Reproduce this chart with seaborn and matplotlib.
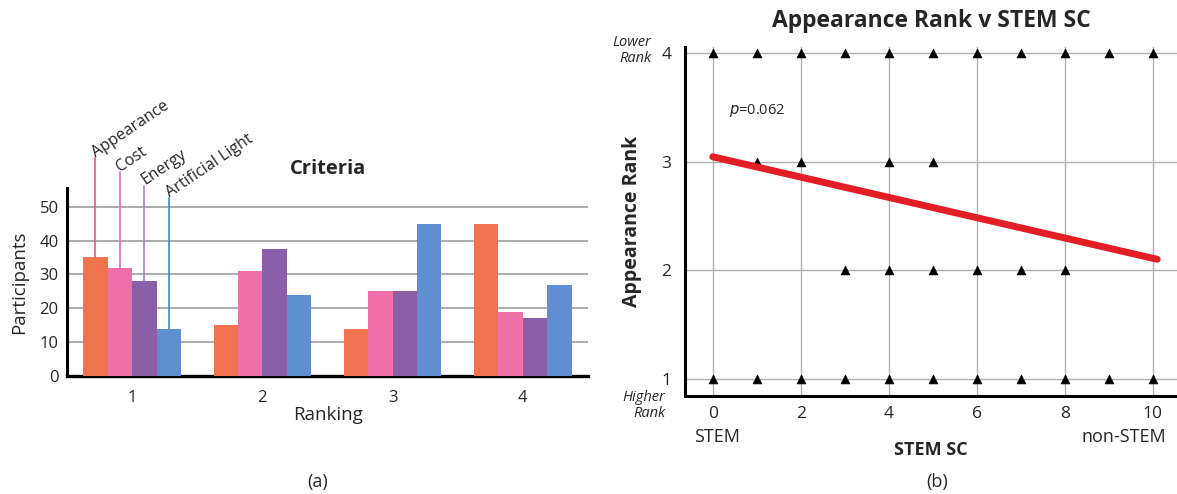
import matplotlib
matplotlib.use("Agg")
import matplotlib.pyplot as plt
import seaborn as sns
import pandas as pd

# --- data -------------------------------------------------------------
rankings = ["1", "2", "3", "4"]
criteria = ["Appearance", "Cost", "Energy", "Artificial Light"]
appearance = [35, 15, 14, 45]
cost = [32, 31, 25, 19]
energy = [28, 37.5, 25, 17]
artificial_light = [14, 24, 45, 27]

stem_sc = [0, 1, 2, 3, 4, 5, 6, 7, 8, 9, 10,
           1, 2, 4, 5,
           3, 4, 5, 6, 7, 8,
           0, 1, 2, 3, 4, 5, 6, 7, 8, 9, 10]
appearance_rank = [4] * 11 + [3] * 4 + [2] * 6 + [1] * 11

fit_x = [0, 10.1]
fit_y = [3.045, 2.10]
p_value = "0.062"

bar_colors = ["#F07350", "#EF6FA9", "#8B5EA8", "#5F8FD0"]
line_colors = ["#E4606E", "#E06CBC", "#B07ED0", "#3E8CC8"]
label_tops = [64.4, 60.2, 56.2, 52.6]

# --- style ------------------------------------------------------------
sns.set_style("white")
plt.rcParams["font.family"] = ["Open Sans", "DejaVu Sans"]

fig = plt.figure(figsize=(11.77, 4.94), dpi=100)
ax1 = fig.add_axes([0.0569, 0.2389, 0.4427, 0.3812])
ax2 = fig.add_axes([0.582, 0.1984, 0.418, 0.7071])

# --- (a) criteria bar chart --------------------------------------------
df = pd.DataFrame({
    "Ranking": rankings * 4,
    "Participants": appearance + cost + energy + artificial_light,
    "Criteria": [c for c in criteria for _ in rankings],
})
sns.barplot(data=df, x="Ranking", y="Participants", hue="Criteria",
            order=rankings, hue_order=criteria, palette=bar_colors,
            width=0.75, gap=0, saturation=1, legend=False, ax=ax1, zorder=3,
            edgecolor="none", linewidth=0)
ax1.set_xlim(-0.5, 3.5)
ax1.set_ylim(0, 55.6)
ax1.set_yticks([0, 10, 20, 30, 40, 50])
ax1.yaxis.grid(True, color="#A6A6A6", linewidth=1.3)
ax1.set_axisbelow(True)
for side in ["top", "right"]:
    ax1.spines[side].set_visible(False)
ax1.spines["left"].set_linewidth(2.2)
ax1.spines["left"].set_color("black")
ax1.spines["bottom"].set_linewidth(2.4)
ax1.spines["bottom"].set_color("black")
ax1.spines["bottom"].set_zorder(1)
ax1.tick_params(axis="both", length=0, labelsize=12)
ax1.tick_params(axis="x", pad=10)
ax1.tick_params(axis="y", pad=6)
ax1.set_xlabel("Ranking", fontsize=13.5, labelpad=0)
ax1.set_ylabel("Participants", fontsize=13.5, labelpad=8)
ax1.set_title("Criteria", fontsize=14.5, fontweight="bold", x=0.5, y=1.03)

# category labels pointing at the first group of bars
for cont, col, top, name in zip(ax1.containers, line_colors, label_tops, criteria):
    bar = cont.patches[0]
    xc = bar.get_x() + bar.get_width() / 2
    ax1.plot([xc, xc], [bar.get_height(), top], color=col, linewidth=1.2,
             clip_on=False, zorder=4)
    ax1.annotate(name, xy=(xc, top), xytext=(2, -2), textcoords="offset points",
                 rotation=34, rotation_mode="anchor", ha="left", va="bottom",
                 fontsize=11.5, annotation_clip=False)

# --- (b) appearance rank vs STEM SC -----------------------------------
sc_df = pd.DataFrame({"STEM SC": stem_sc, "Appearance Rank": appearance_rank})
sns.scatterplot(data=sc_df, x="STEM SC", y="Appearance Rank", marker="^",
                color="black", s=40, edgecolor="black", ax=ax2, zorder=4)
sns.lineplot(x=fit_x, y=fit_y, color="#E31E24", linewidth=5, ax=ax2, zorder=5)
ax2.set_xlim(-0.63, 10.55)
ax2.set_ylim(0.84, 4.06)
ax2.set_xticks([0, 2, 4, 6, 8, 10])
ax2.set_yticks([1, 2, 3, 4])
ax2.grid(True, color="#B0B0B0", linewidth=1.0)
ax2.set_axisbelow(True)
for side in ["top", "right"]:
    ax2.spines[side].set_visible(False)
for side in ["left", "bottom"]:
    ax2.spines[side].set_linewidth(2.2)
    ax2.spines[side].set_color("black")
ax2.tick_params(axis="both", length=0, labelsize=12.5)
ax2.tick_params(axis="x", pad=7)
ax2.tick_params(axis="y", pad=10)
ax2.set_xlabel("STEM SC", fontsize=13, fontweight="bold", labelpad=14)
ax2.set_ylabel("Appearance Rank", fontsize=14, fontweight="bold", labelpad=14)
ax2.set_title("Appearance Rank v STEM SC", fontsize=16.5, fontweight="bold", pad=14)
ax2.text(0.37, 3.47, r"$p$=" + p_value, fontsize=10.5, va="center", ha="left")

fig.text(0.5535, 0.897, "Lower\nRank", fontsize=10.5, style="italic",
         ha="right", va="center", linespacing=1.1)
fig.text(0.5655, 0.180, "Higher\nRank", fontsize=10.5, style="italic",
         ha="right", va="center", linespacing=1.1)
fig.text(716.7 / 1177, 0.1154, "STEM", fontsize=13, ha="center", va="center")
fig.text(1124 / 1177, 0.1154, "non-STEM", fontsize=13, ha="center", va="center")

fig.text(318 / 1177, 1 - 482 / 494, "(a)", fontsize=13, ha="center", va="center")
fig.text(937 / 1177, 1 - 482 / 494, "(b)", fontsize=13, ha="center", va="center")

fig.savefig("out.png", dpi=100)
